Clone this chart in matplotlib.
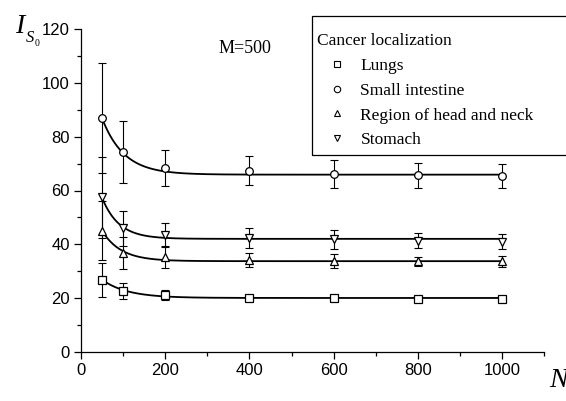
import numpy as np
import matplotlib
matplotlib.use("Agg")
import matplotlib.pyplot as plt
from matplotlib.patches import Rectangle
from matplotlib.ticker import MultipleLocator

# sample sizes
N = [50, 100, 200, 400, 600, 800, 1000]

lungs = [26.8, 22.6, 21.2, 20.0, 20.0, 19.8, 19.8]
lungs_err = [6.3, 3.0, 1.9, 1.0, 0.8, 0.8, 0.8]

intestine = [87.0, 74.4, 68.3, 67.4, 66.2, 65.6, 65.4]
intestine_err = [20.5, 11.5, 6.8, 5.4, 5.2, 4.6, 4.6]

head_neck = [45.0, 36.8, 35.2, 34.0, 33.8, 33.6, 33.6]
head_neck_err = [11.0, 6.0, 4.2, 2.6, 2.6, 1.7, 1.9]

stomach = [57.5, 46.0, 43.4, 42.4, 41.8, 41.3, 40.9]
stomach_err = [15.0, 6.5, 4.5, 3.7, 3.5, 2.8, 2.8]

labels = ["Lungs", "Small intestine", "Region of head and neck", "Stomach"]
markers = ["s", "o", "^", "v"]

# ExpDec fit parameters (y0, A, t)
fits = [(20.0, 6.8, 60.0), (65.9, 21.0, 52.0), (33.7, 11.3, 45.0), (42.0, 15.3, 40.0)]

series = [(lungs, lungs_err), (intestine, intestine_err),
          (head_neck, head_neck_err), (stomach, stomach_err)]

W, H = 566, 401
fig = plt.figure(figsize=(W / 100, H / 100), dpi=100)
ax = fig.add_axes([81 / W, 1 - 351.7 / H, (544.3 - 81) / W, (351.7 - 29.3) / H])

nn = np.linspace(50, 1000, 400)
handles = []
for (vals, errs), m, lab, (y0, A, t) in zip(series, markers, labels, fits):
    ax.plot(nn, y0 + A * np.exp(-(nn - 50) / t), color="black", lw=1.3, zorder=2)
    ax.errorbar(N, vals, yerr=errs, fmt="none", ecolor="black", elinewidth=0.8,
                capsize=3.2, capthick=0.8, zorder=3)
    ax.plot(N, vals, linestyle="none", marker=m, markersize=5.5, mfc="white",
            mec="black", mew=0.9, zorder=4)
    h, = ax.plot([], [], linestyle="none", marker=m, markersize=4.6, mfc="white",
                 mec="black", mew=0.8, label=lab)
    handles.append(h)

ax.set_xlim(0, 1100)
ax.set_ylim(0, 120)
ax.xaxis.set_major_locator(MultipleLocator(200))
ax.xaxis.set_minor_locator(MultipleLocator(100))
ax.yaxis.set_major_locator(MultipleLocator(20))
ax.yaxis.set_minor_locator(MultipleLocator(10))
ax.spines["top"].set_visible(False)
ax.spines["right"].set_visible(False)
for s in ["left", "bottom"]:
    ax.spines[s].set_linewidth(0.9)
ax.tick_params(which="major", direction="out", length=5, width=0.9,
               labelsize=12, pad=3)
ax.tick_params(which="minor", direction="out", length=3, width=0.9)
for lab in ax.get_xticklabels() + ax.get_yticklabels():
    lab.set_family("Liberation Sans")

ax.text(389, 112.7, "M=500", family="Liberation Serif", fontsize=13,
        ha="center", va="center")

# legend box runs off the right edge
fig.patches.append(Rectangle((312 / W, 1 - 155 / H), 300 / W, 139 / H,
                             transform=fig.transFigure, fill=False,
                             edgecolor="black", lw=0.9))
leg = fig.legend(handles=handles, loc="upper left",
                 bbox_to_anchor=(317 / W, 1 - 33 / H), frameon=False,
                 title="Cancer localization", alignment="left",
                 prop={"family": "Liberation Serif", "size": 12.5},
                 title_fontproperties={"family": "Liberation Serif", "size": 12.5},
                 handlelength=2.3, handletextpad=0.2, labelspacing=0.5,
                 borderaxespad=0, borderpad=0, markerscale=1.0)

# axis labels
fig.text(15 / W, 1 - 33 / H, "I", family="Liberation Serif", style="italic",
         fontsize=20, va="baseline")
fig.text(26 / W, 1 - 42 / H, "S", family="Liberation Serif", style="italic",
         fontsize=12, va="baseline")
fig.text(34.5 / W, 1 - 46 / H, "0", family="Liberation Serif", fontsize=7,
         va="baseline")
fig.text(549 / W, 1 - 387 / H, "N", family="Liberation Serif", style="italic",
         fontsize=20, va="baseline")

fig.savefig("out.png", dpi=100)
